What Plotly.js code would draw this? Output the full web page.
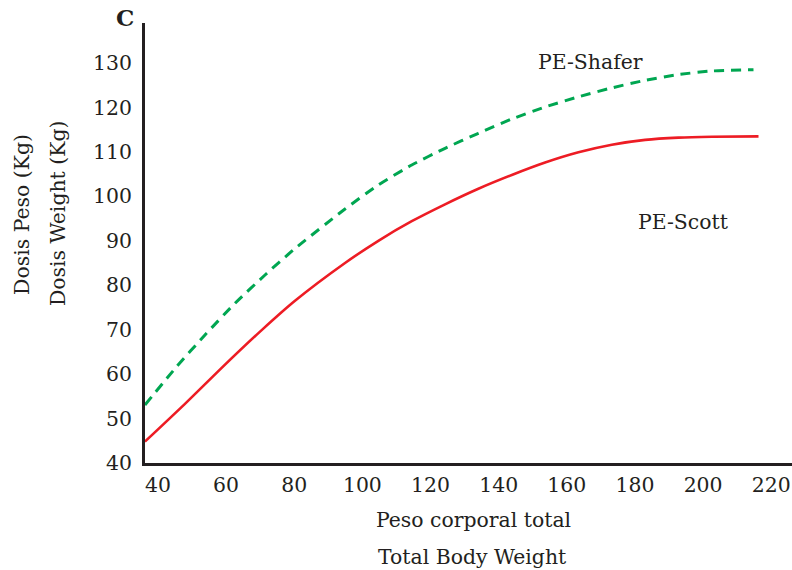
<!DOCTYPE html>
<html>
<head>
<meta charset="utf-8">
<script src="https://cdn.plot.ly/plotly-3.0.1.min.js"></script>
<style>html,body{margin:0;padding:0;background:#fff;}#chart{width:792px;height:570px;}</style>
</head>
<body>
<div id="chart"></div>
<script>
// PE-Scott (solid red)
const scottX = [36.18, 47.93, 58.70, 70.45, 80.23, 94.91, 104.69, 114.50, 124.27, 134.05, 143.86, 153.64, 163.42, 173.22, 183.00, 192.78, 202.59, 216.27];
const scottY = [44.8, 53.3, 61.4, 69.9, 76.5, 85.0, 90.0, 94.4, 98.2, 101.7, 104.8, 107.6, 109.9, 111.6, 112.7, 113.2, 113.4, 113.5];
// PE-Shafer (dashed green)
const shaferX = [36.18, 45.49, 53.80, 62.61, 71.42, 79.73, 94.91, 104.69, 114.50, 124.27, 134.05, 143.86, 153.64, 163.42, 173.22, 183.00, 192.78, 202.59, 214.80];
const shaferY = [53.05, 61.67, 68.80, 75.93, 82.30, 87.93, 97.15, 102.55, 107.05, 110.81, 114.18, 117.4, 120.1, 122.4, 124.4, 126.1, 127.4, 128.2, 128.5];

const xTicks = [40, 60, 80, 100, 120, 140, 160, 180, 200, 220];
const yTicks = [40, 50, 60, 70, 80, 90, 100, 110, 120, 130];

const seriesNames = ["PE-Scott", "PE-Shafer"];
const panelLetter = "C";
const yTitles = ["Dosis Peso (Kg)", "Dosis Weight (Kg)"];
const xTitles = ["Peso corporal total", "Total Body Weight"];

const FONT = "DejaVu Serif, Liberation Serif, serif";
const TXT = "#231f20";
const FS = 20.4;

const traces = [
  {x: scottX, y: scottY, name: seriesNames[0], mode: "lines", type: "scatter",
   line: {color: "#ed1c24", width: 2.6, shape: "spline", smoothing: 0.6}},
  {x: shaferX, y: shaferY, name: seriesNames[1], mode: "lines", type: "scatter",
   line: {color: "#00a651", width: 3, shape: "spline", smoothing: 0.6, dash: "10px,7px"}}
];

const layout = {
  width: 792, height: 570,
  margin: {l: 145, r: 0, t: 23, b: 107},
  paper_bgcolor: "#fff", plot_bgcolor: "#fff",
  showlegend: false,
  font: {family: FONT, color: TXT, size: FS},
  xaxis: {range: [36.2, 226.1], tickvals: xTicks, ticktext: xTicks.map(String),
          showgrid: false, zeroline: false, showline: true, linecolor: TXT, linewidth: 3,
          ticks: "outside", ticklen: 2, tickcolor: "rgba(0,0,0,0)",
          tickfont: {family: FONT, size: FS, color: TXT}},
  yaxis: {range: [40, 139], tickvals: yTicks, ticktext: yTicks.map(String),
          showgrid: false, zeroline: false, showline: true, linecolor: TXT, linewidth: 3,
          ticks: "outside", ticklen: 6, tickcolor: "rgba(0,0,0,0)",
          tickfont: {family: FONT, size: FS, color: TXT}},
  annotations: [
    {text: "<b>" + panelLetter + "</b>", xref: "paper", yref: "paper", x: -0.031, y: 1.012,
     xanchor: "center", yanchor: "middle", showarrow: false, font: {family: FONT, size: 23, color: TXT}},
    {text: seriesNames[1], xref: "x", yref: "y", x: 167.1, y: 130.2, showarrow: false,
     xanchor: "center", yanchor: "middle", font: {family: FONT, size: FS, color: TXT}},
    {text: seriesNames[0], xref: "x", yref: "y", x: 194.2, y: 94.2, showarrow: false,
     xanchor: "center", yanchor: "middle", font: {family: FONT, size: FS, color: TXT}},
    {text: yTitles[0], xref: "paper", yref: "paper", x: -0.190, y: 0.564, textangle: -90,
     xanchor: "center", yanchor: "middle", showarrow: false, font: {family: FONT, size: FS, color: TXT}},
    {text: yTitles[1], xref: "paper", yref: "paper", x: -0.1345, y: 0.568, textangle: -90,
     xanchor: "center", yanchor: "middle", showarrow: false, font: {family: FONT, size: FS, color: TXT}},
    {text: xTitles[0], xref: "paper", yref: "paper", x: 0.5085, y: -0.1295,
     xanchor: "center", yanchor: "middle", showarrow: false, font: {family: FONT, size: FS, color: TXT}},
    {text: xTitles[1], xref: "paper", yref: "paper", x: 0.506, y: -0.2136,
     xanchor: "center", yanchor: "middle", showarrow: false, font: {family: FONT, size: FS, color: TXT}}
  ]
};

Plotly.newPlot("chart", traces, layout, {displayModeBar: false, staticPlot: true});
</script>
</body>
</html>
